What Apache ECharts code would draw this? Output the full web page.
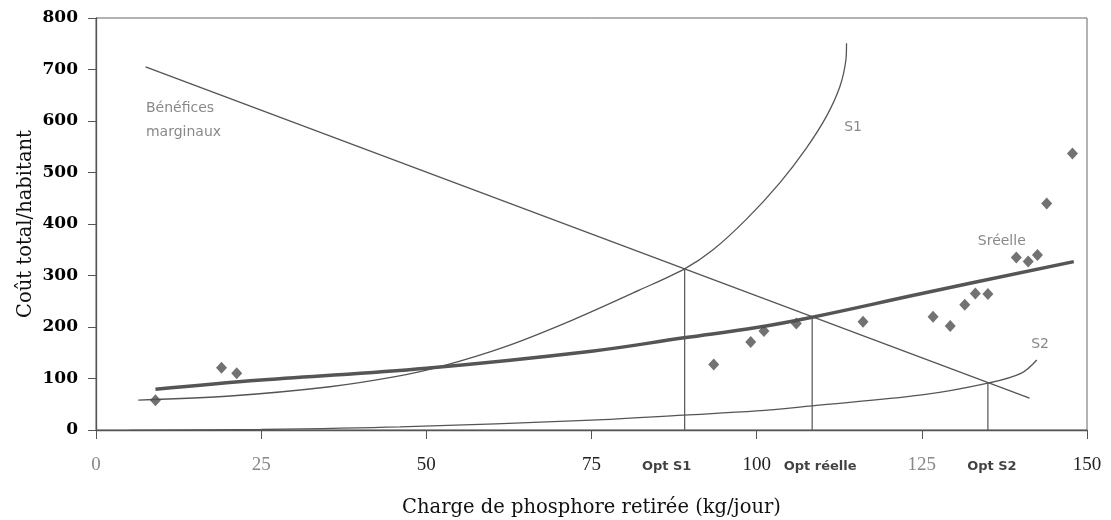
<!DOCTYPE html>
<html>
<head>
<meta charset="utf-8">
<title>Coût total/habitant</title>
<script src="https://cdn.jsdelivr.net/npm/echarts@6.0.0/dist/echarts.min.js"></script>
<style>
  html, body { margin: 0; padding: 0; background: #fff; }
  #chart { width: 1111px; height: 520px; }
</style>
</head>
<body>
<div id="chart"></div>
<script>
// points observés (losanges)
const obsX = [9.0, 19.0, 21.3, 93.5, 99.1, 101.1, 106.0, 116.1, 126.7, 129.3, 131.5, 133.1, 135.0, 139.3, 141.1, 142.5, 143.9, 147.8];
const obsY = [58, 121, 110, 127, 171, 192, 207, 210, 220, 202, 243, 265, 264, 335, 327, 340, 440, 537];

// courbe Sréelle (trait épais)
const sreelleX = [9, 25, 50, 75, 89, 100, 108.4, 125, 148];
const sreelleY = [79, 97, 120, 153, 179, 199, 219, 265, 327];

// courbe S1
const s1X = [6.4, 20.3, 35.4, 45.5, 52.1, 62.2, 72.2, 82.3, 89.1, 93.4, 98.5, 103.5, 107.5, 110.6, 112.6, 113.5, 113.6];
const s1Y = [58, 66, 84, 104, 123, 163, 214, 272, 313, 350, 410, 480, 547, 610, 667, 718, 751];

// courbe S2
const s2X = [5, 25, 46, 75, 89, 100, 108.4, 125, 135, 140, 142.4];
const s2Y = [-1, 1, 6, 19, 29, 37, 47, 68, 91, 110, 136];

// bénéfices marginaux (droite)
const benefX = [7.5, 141.3];
const benefY = [705, 62];

// optimums
const optNames = ['Opt S1', 'Opt réelle', 'Opt S2'];
const optX = [89.1, 108.4, 135.0];
const optY = [313, 220, 92];

const greyTicks = [0, 25, 125];

const ink = '#555';
const serif = '"DejaVu Serif", "Liberation Serif", serif';
const serifThin = '"Liberation Serif", "DejaVu Serif", serif';
const sans = '"DejaVu Sans", "Liberation Sans", sans-serif';

const zip = (xs, ys) => xs.map((x, i) => [x, ys[i]]);

const thinLine = (name, xs, ys, smooth) => ({
  name: name,
  type: 'line',
  data: zip(xs, ys),
  smooth: smooth,
  showSymbol: false,
  silent: true,
  lineStyle: { color: ink, width: 1.3 },
  z: 3
});

const chart = echarts.init(document.getElementById('chart'));

const dropLines = optX.map((x, i) => ({
  type: 'line',
  data: [[x, 0], [x, optY[i]]],
  showSymbol: false,
  silent: true,
  lineStyle: { color: ink, width: 1.2 },
  z: 2
}));

// étiquettes de texte placées en coordonnées de données
const notes = [
  { value: [6.8, 602], text: 'Bénéfices\nmarginaux', pos: 'right' },
  { value: [114.6, 588], text: 'S1', pos: 'inside' },
  { value: [137.1, 367], text: 'Sréelle', pos: 'inside' },
  { value: [142.9, 167], text: 'S2', pos: 'inside' }
];
const optOffsets = [[-18, 37], [8, 37], [4, 37]];

chart.setOption({
  animation: false,
  grid: {
    left: 96, top: 18, right: 24, bottom: 90,
    outerBoundsMode: 'none',
    containLabel: false,
    show: true, borderColor: '#666', borderWidth: 1
  },
  xAxis: {
    type: 'value',
    min: 0, max: 150, interval: 25,
    name: 'Charge de phosphore retirée (kg/jour)',
    nameLocation: 'middle',
    nameGap: 68,
    nameMoveOverlap: false,
    nameTextStyle: { fontFamily: serif, fontSize: 19.5, color: '#111' },
    axisLine: { show: true, lineStyle: { color: '#555', width: 1.3 } },
    axisTick: { show: true, length: 9, lineStyle: { color: '#555' } },
    splitLine: { show: false },
    axisLabel: {
      margin: 26,
      fontFamily: serifThin,
      fontSize: 19,
      color: (v) => greyTicks.includes(Number(v)) ? '#888' : '#222'
    }
  },
  yAxis: {
    type: 'value',
    min: 0, max: 800, interval: 100,
    name: 'Coût total/habitant',
    nameLocation: 'middle',
    nameGap: 60,
    nameMoveOverlap: false,
    nameTextStyle: { fontFamily: serif, fontSize: 19.5, color: '#111' },
    axisLine: { show: true, lineStyle: { color: '#555', width: 1.3 } },
    axisTick: { show: true, length: 8, lineStyle: { color: '#555' } },
    splitLine: { show: false },
    axisLabel: {
      margin: 18,
      fontFamily: serif,
      fontWeight: 'bold',
      fontSize: 17,
      color: '#000'
    }
  },
  series: [
    thinLine('Bénéfices marginaux', benefX, benefY, false),
    thinLine('S1', s1X, s1Y, 0.3),
    thinLine('S2', s2X, s2Y, 0.35),
    {
      name: 'Sréelle',
      type: 'line',
      data: zip(sreelleX, sreelleY),
      smooth: 0.4,
      showSymbol: false,
      silent: true,
      lineStyle: { color: ink, width: 3.5 },
      z: 4
    },
    ...dropLines,
    {
      name: 'Observations',
      type: 'scatter',
      symbol: 'diamond',
      symbolSize: [11, 12],
      itemStyle: { color: '#4f4f4f' },
      data: zip(obsX, obsY),
      z: 5
    },
    {
      name: 'notes',
      type: 'scatter',
      symbolSize: 0,
      silent: true,
      data: notes.map(n => ({
        value: n.value,
        label: { show: true, formatter: n.text, position: n.pos }
      })),
      label: {
        fontFamily: sans,
        fontSize: 14,
        color: '#6a6a6a',
        lineHeight: 24
      },
      z: 6
    },
    {
      name: 'optimums',
      type: 'scatter',
      symbolSize: 0,
      silent: true,
      data: optX.map((x, i) => ({
        value: [x, 0],
        label: { show: true, formatter: optNames[i], offset: optOffsets[i] }
      })),
      label: {
        position: 'inside',
        fontFamily: sans,
        fontWeight: 'bold',
        fontSize: 13,
        color: '#111'
      },
      z: 6
    }
  ]
});

window.addEventListener('resize', () => chart.resize());
</script>
</body>
</html>
